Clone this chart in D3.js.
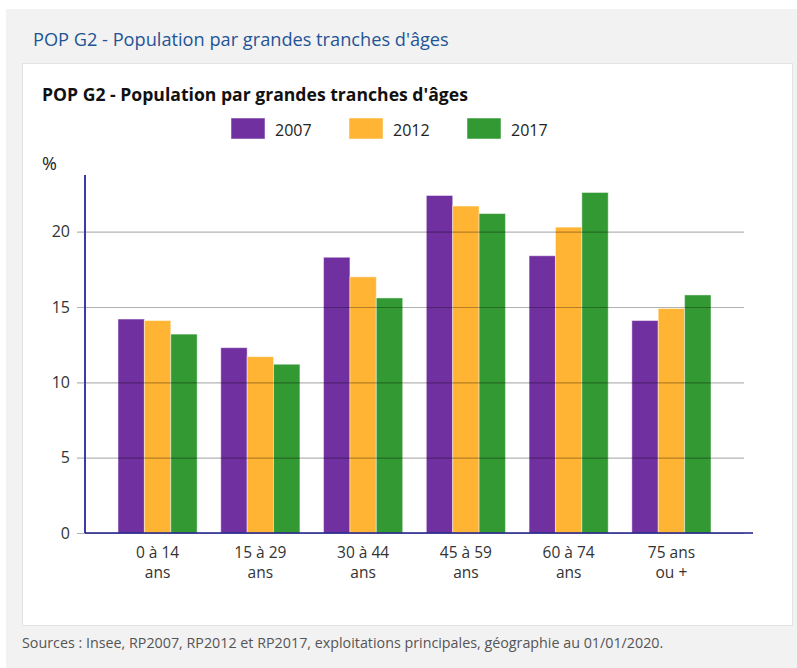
<!DOCTYPE html>
<html>
<head>
<meta charset="utf-8">
<script src="https://cdn.jsdelivr.net/npm/d3@7"></script>
<style>
  html, body { margin: 0; padding: 0; background: #ffffff; }
  svg { display: block; font-family: "Open Sans", sans-serif; }
</style>
</head>
<body>
<svg id="chart" width="797" height="668"></svg>
<script>
const categories = [["0 à 14", "ans"], ["15 à 29", "ans"], ["30 à 44", "ans"], ["45 à 59", "ans"], ["60 à 74", "ans"], ["75 ans", "ou +"]];
const seriesNames = ["2007", "2012", "2017"];
const values2007 = [14.2, 12.3, 18.3, 22.4, 18.4, 14.1];
const values2012 = [14.1, 11.7, 17.0, 21.7, 20.3, 14.9];
const values2017 = [13.2, 11.2, 15.6, 21.2, 22.6, 15.8];
const seriesColors = ["#7030a0", "#ffb433", "#339933"];
const yTicks = [0, 5, 10, 15, 20];
const outerTitle = "POP G2 - Population par grandes tranches d'âges";
const innerTitle = "POP G2 - Population par grandes tranches d'âges";
const sourceText = "Sources : Insee, RP2007, RP2012 et RP2017, exploitations principales, géographie au 01/01/2020.";

const seriesValues = [values2007, values2012, values2017];
const catKeys = categories.map(c => c.join(" "));

const svg = d3.select("#chart");

// backgrounds
svg.append("rect").attr("x", 6).attr("y", 9).attr("width", 791).attr("height", 659).attr("fill", "#f2f2f2");
svg.append("rect").attr("x", 22.5).attr("y", 63.5).attr("width", 770).attr("height", 562)
  .attr("fill", "#ffffff").attr("stroke", "#e2e2e2").attr("stroke-width", 1);

// titles
svg.append("text").attr("x", 33).attr("y", 46).attr("font-size", 18.2).attr("fill", "#1f5496").text(outerTitle);
svg.append("text").attr("x", 42).attr("y", 101).attr("font-size", 17.6).attr("font-weight", "bold").attr("fill", "#111").text(innerTitle);
svg.append("text").attr("x", 22).attr("y", 648).attr("font-size", 14.3).attr("fill", "#555").text(sourceText);

// scales
const y = d3.scaleLinear().domain([0, 23.76]).range([533, 175]);
const x0 = d3.scaleBand().domain(catKeys).range([106.2, 722.8]).paddingInner(0.23).paddingOuter(0.115);
const x1 = d3.scaleBand().domain(seriesNames).range([0, x0.bandwidth()]).padding(0);

// legend
const legend = svg.append("g");
seriesNames.forEach((s, i) => {
  const lx = 231 + i * 118;
  legend.append("rect").attr("x", lx).attr("y", 118).attr("width", 34).attr("height", 21)
    .attr("fill", seriesColors[i]).attr("stroke", "#ffffff").attr("stroke-opacity", 0.5);
  legend.append("text").attr("x", lx + 44).attr("y", 135.5).attr("font-size", 16).attr("fill", "#222").text(s);
});

// % label
svg.append("text").attr("x", 42).attr("y", 170).attr("font-size", 18).attr("fill", "#222").text("%");

// bars
const groups = svg.append("g").selectAll("g").data(catKeys).join("g")
  .attr("transform", d => `translate(${x0(d)},0)`);
groups.selectAll("rect").data((d, ci) => seriesNames.map((s, si) => ({ s, si, v: seriesValues[si][ci] })))
  .join("rect")
  .attr("x", d => x1(d.s))
  .attr("y", d => y(d.v))
  .attr("width", x1.bandwidth())
  .attr("height", d => y(0) - y(d.v))
  .attr("fill", d => seriesColors[d.si])
  .attr("stroke", "#ffffff").attr("stroke-opacity", 0.45).attr("stroke-width", 1);

// grid + y axis labels
const yAxis = d3.axisLeft(y).tickValues(yTicks).tickSizeInner(-(744 - 85)).tickSizeOuter(0).tickPadding(15);
const ga = svg.append("g").attr("transform", "translate(85,0)").call(yAxis);
ga.select(".domain").remove();
ga.selectAll(".tick line").attr("x1", -8).attr("stroke", "#000").attr("stroke-opacity", 0.3).attr("stroke-width", 1.2);
ga.selectAll(".tick text").attr("font-size", 16).attr("fill", "#333").attr("font-family", "Open Sans, sans-serif");

// axis lines
svg.append("line").attr("x1", 85).attr("x2", 85).attr("y1", 175).attr("y2", y(0)).attr("stroke", "#3b3ba8").attr("stroke-width", 2);
svg.append("line").attr("x1", 85).attr("x2", 753).attr("y1", y(0)).attr("y2", y(0)).attr("stroke", "#1c1c8a").attr("stroke-width", 1.5);

// x labels
const xl = svg.append("g");
categories.forEach((c, i) => {
  const cx = x0(catKeys[i]) + x0.bandwidth() / 2;
  c.forEach((line, li) => {
    xl.append("text").attr("x", cx).attr("y", 558 + li * 20).attr("text-anchor", "middle")
      .attr("font-size", 15.5).attr("fill", "#333").text(line);
  });
});
</script>
</body>
</html>
